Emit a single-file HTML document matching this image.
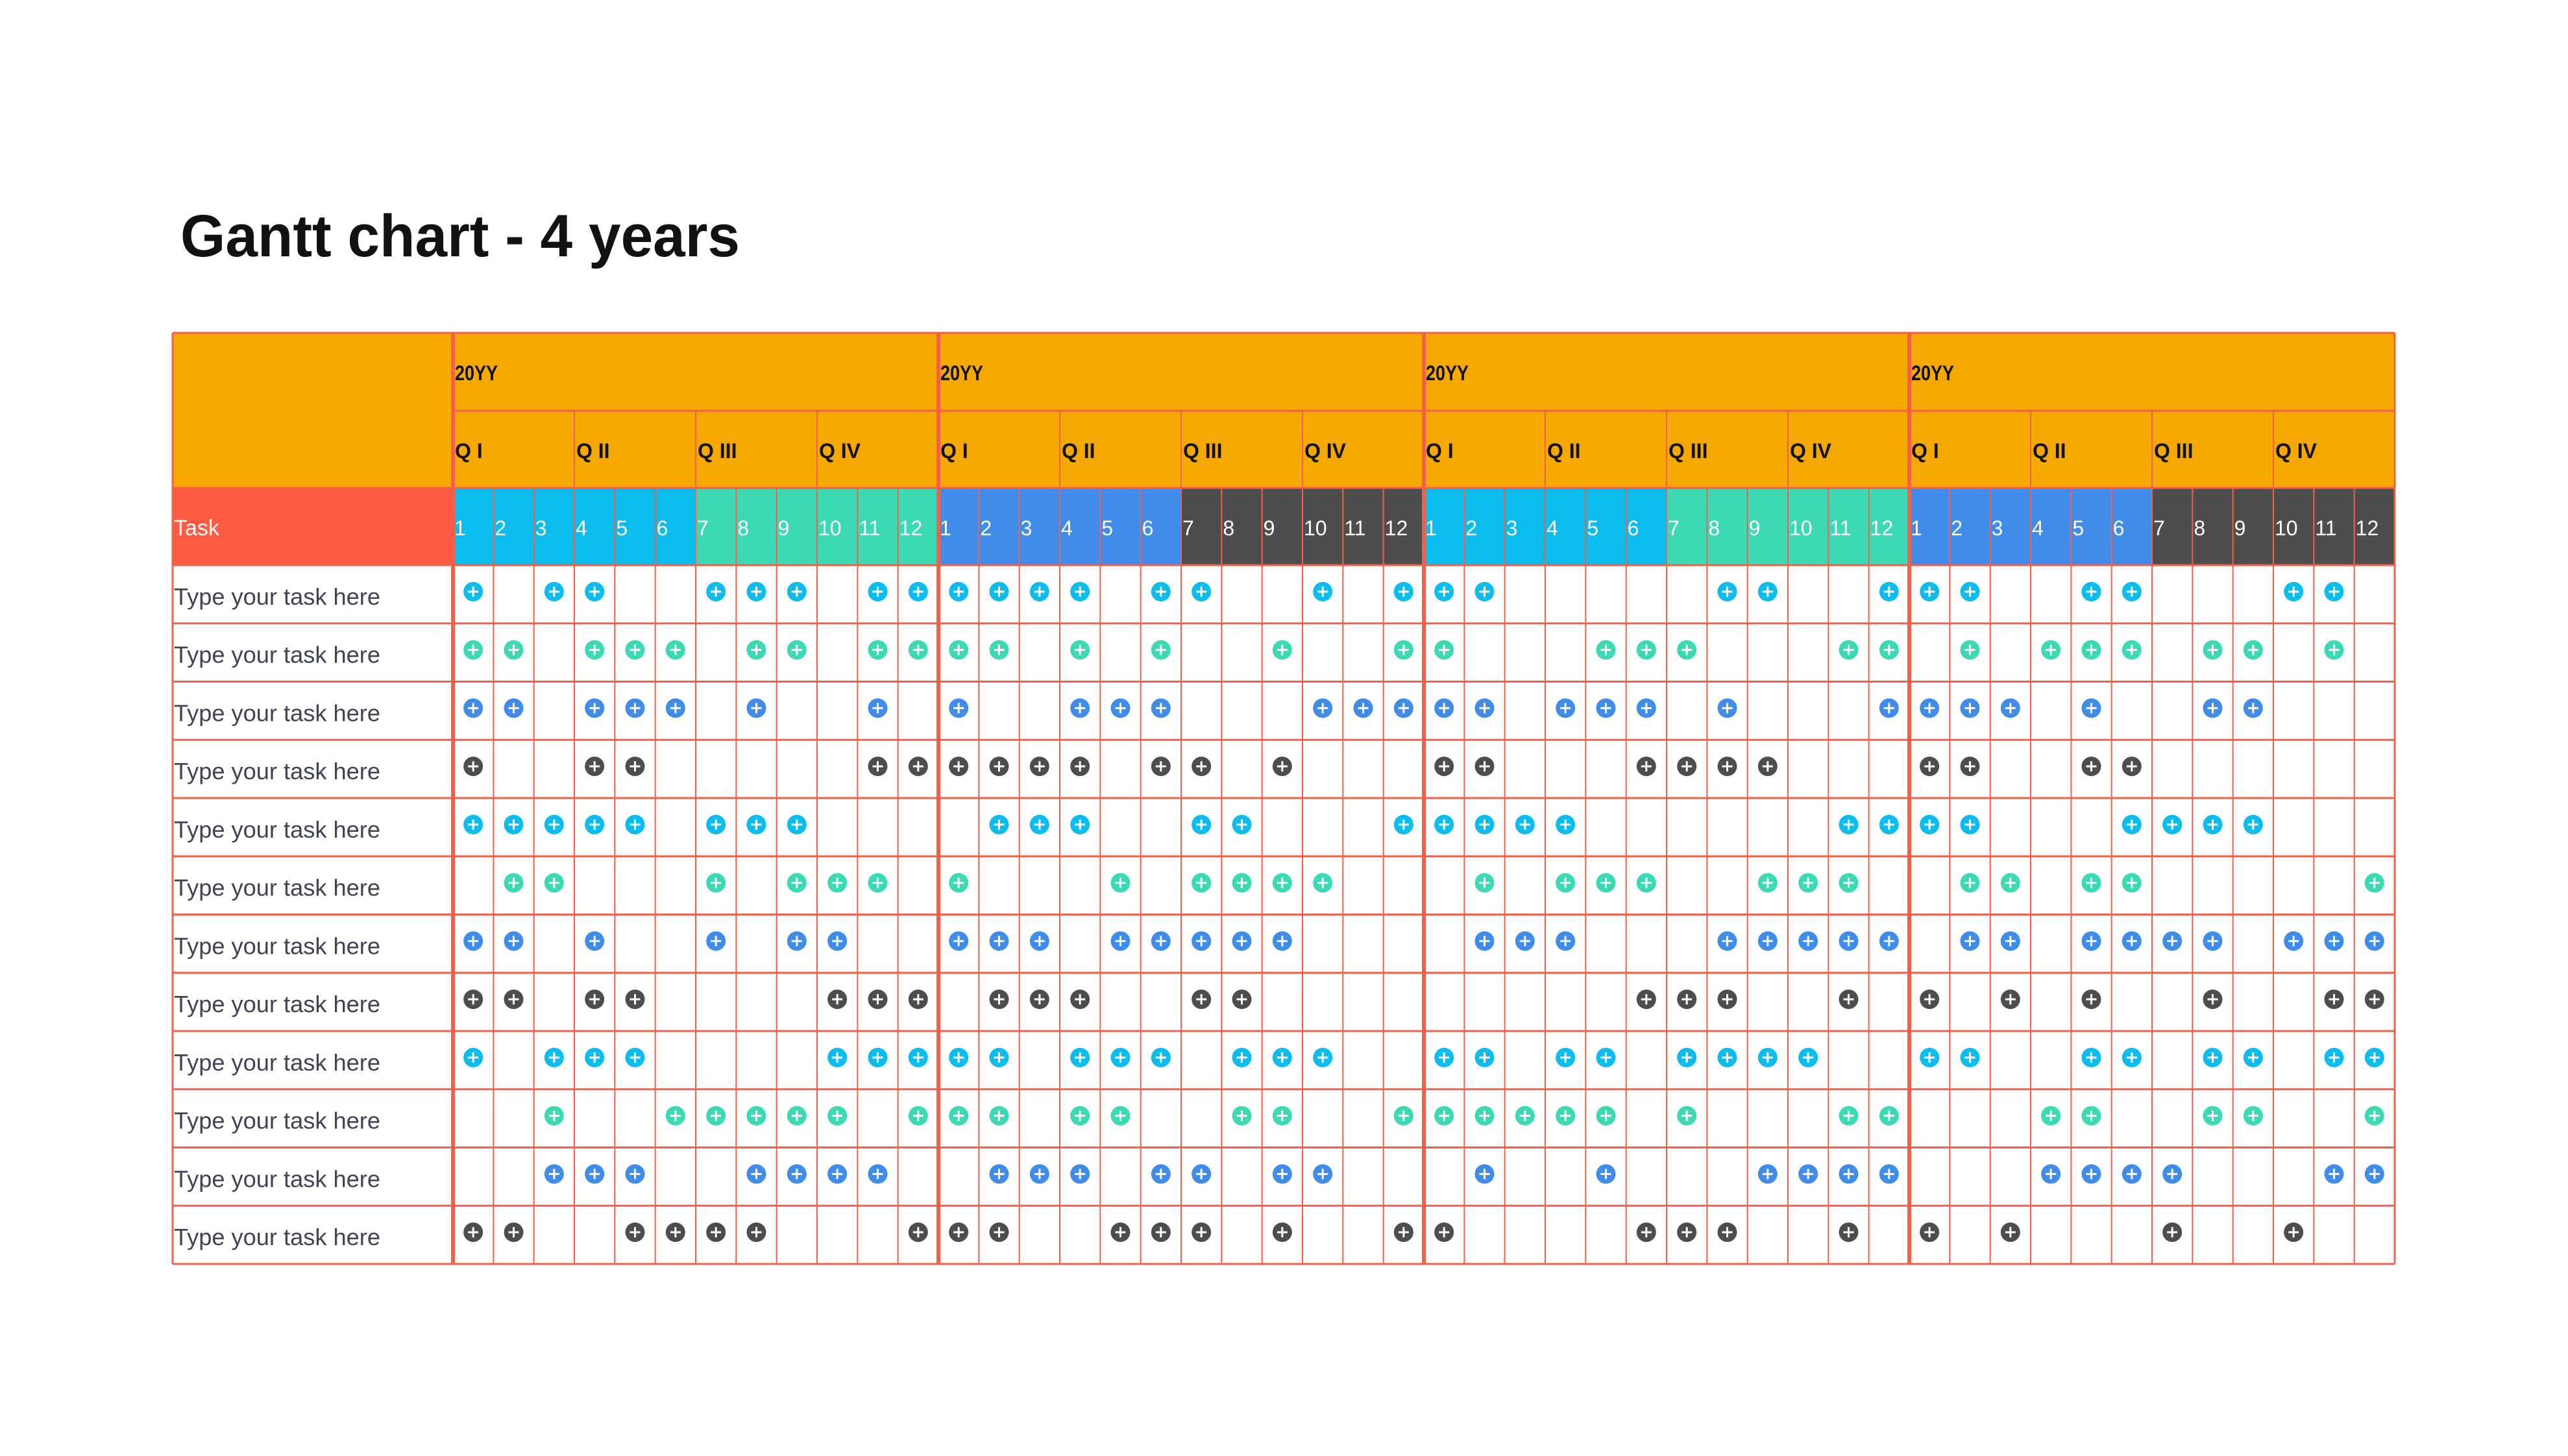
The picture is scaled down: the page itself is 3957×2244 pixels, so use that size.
<!DOCTYPE html>
<html><head><meta charset="utf-8"><style>
html,body{margin:0;padding:0;background:#fff;}
svg{display:block;}
</style></head><body>
<svg id="chart" xmlns="http://www.w3.org/2000/svg" width="3957" height="2244" viewBox="0 0 3957 2244">
<rect x="0" y="0" width="3957" height="2244" fill="#fff"/>
<text x="278" y="395" font-family="Liberation Sans, sans-serif" font-weight="bold" font-size="92" fill="#111" textLength="862" lengthAdjust="spacingAndGlyphs">Gantt chart - 4 years</text>
<g id="grid"></g>
</svg>
<script>
const yearLabels = ['20YY','20YY','20YY','20YY'];
const quarterLabels = ['Q I','Q II','Q III','Q IV'];
const monthLabels = ['1','2','3','4','5','6','7','8','9','10','11','12'];
const taskLabels = ['Type your task here','Type your task here','Type your task here','Type your task here','Type your task here','Type your task here','Type your task here','Type your task here','Type your task here','Type your task here','Type your task here','Type your task here'];
const task1 = [[1,3,4,7,8,9,11,12],[1,2,3,4,6,7,10,12],[1,2,8,9,12],[1,2,5,6,10,11]];
const task2 = [[1,2,4,5,6,8,9,11,12],[1,2,4,6,9,12],[1,5,6,7,11,12],[2,4,5,6,8,9,11]];
const task3 = [[1,2,4,5,6,8,11],[1,4,5,6,10,11,12],[1,2,4,5,6,8,12],[1,2,3,5,8,9]];
const task4 = [[1,4,5,11,12],[1,2,3,4,6,7,9],[1,2,6,7,8,9],[1,2,5,6]];
const task5 = [[1,2,3,4,5,7,8,9],[2,3,4,7,8,12],[1,2,3,4,11,12],[1,2,6,7,8,9]];
const task6 = [[2,3,7,9,10,11],[1,5,7,8,9,10],[2,4,5,6,9,10,11],[2,3,5,6,12]];
const task7 = [[1,2,4,7,9,10],[1,2,3,5,6,7,8,9],[2,3,4,8,9,10,11,12],[2,3,5,6,7,8,10,11,12]];
const task8 = [[1,2,4,5,10,11,12],[2,3,4,7,8],[6,7,8,11],[1,3,5,8,11,12]];
const task9 = [[1,3,4,5,10,11,12],[1,2,4,5,6,8,9,10],[1,2,4,5,7,8,9,10],[1,2,5,6,8,9,11,12]];
const task10 = [[3,6,7,8,9,10,12],[1,2,4,5,8,9,12],[1,2,3,4,5,7,11,12],[4,5,8,9,12]];
const task11 = [[3,4,5,8,9,10,11],[2,3,4,6,7,9,10],[2,5,9,10,11,12],[4,5,6,7,11,12]];
const task12 = [[1,2,5,6,7,8,12],[1,2,5,6,7,9,12],[1,6,7,8,11],[1,3,7,10]];
const allTasks = [task1,task2,task3,task4,task5,task6,task7,task8,task9,task10,task11,task12];

const NS='http://www.w3.org/2000/svg';
const g=document.getElementById('grid');
const L=266, TX=698, R=3690, T=513, H1=633, H2=752, H3=871, B=1948;
const colW=(R-TX)/48, rowH=(B-H3)/12;
const LINE='#F2604A', ORANGE='#F5A800', RED='#FF5A42';
const monthFill=[['#0BBDEF','#3BD9B4'],['#3F8CEB','#4D4D4D'],['#0BBDEF','#3BD9B4'],['#3F8CEB','#4D4D4D']];
const dotFill=['#0BBDEF','#3BD9B4','#3F8CEB','#4D4D4D'];
const xCol=c=>TX+c*colW;
const yRow=r=>H3+r*rowH;
function el(tag,attrs,parent){const e=document.createElementNS(NS,tag);for(const k in attrs)e.setAttribute(k,attrs[k]);(parent||g).appendChild(e);return e;}
function txt(s,attrs){const e=el('text',Object.assign({'font-family':'Liberation Sans, sans-serif'},attrs));e.textContent=s;return e;}

// header backgrounds
let r=el('rect',{x:L,y:T,width:R-L,height:H2-T,fill:ORANGE});


r=el('rect',{x:L,y:H2,width:TX-L,height:H3-H2,fill:RED});


let t=txt('Task',{x:L+2,y:H2+73,'font-size':34,fill:'#fff'});



for(let y=0;y<4;y++){
  t=txt(yearLabels[y],{x:xCol(y*12)+3,y:T+73,'font-size':32,'font-weight':'bold',fill:'#111',textLength:66,lengthAdjust:'spacingAndGlyphs'});
  
  
  for(let q=0;q<4;q++){
    t=txt(quarterLabels[q],{x:xCol(y*12+q*3)+3,y:H1+73,'font-size':32,'font-weight':'bold',fill:'#111'});
    
    
  }
  for(let m=0;m<12;m++){
    r=el('rect',{x:xCol(y*12+m),y:H2,width:colW,height:H3-H2,fill:monthFill[y][m<6?0:1]});
    
    
    t=txt(monthLabels[m],{x:xCol(y*12+m)+2,y:H2+73,'font-size':32,fill:'#fff'});
    
    
  }
}
// task labels
for(let i=0;i<12;i++){
  t=txt(taskLabels[i],{x:L+2,y:yRow(i)+rowH/2+16,'font-size':36,fill:'#3E4456',textLength:318,lengthAdjust:'spacingAndGlyphs'});
  
  
}
// grid lines
for(let i=0;i<=12;i++){el('line',{x1:L,x2:R,y1:yRow(i),y2:yRow(i),stroke:LINE,'stroke-width':3});}
el('line',{x1:TX,x2:R,y1:H1,y2:H1,stroke:LINE,'stroke-width':3});
el('line',{x1:L,x2:R,y1:T,y2:T,stroke:LINE,'stroke-width':3});
el('line',{x1:L,x2:R,y1:H2,y2:H2,stroke:LINE,'stroke-width':3});
for(let c=0;c<=48;c++){
  let top = c%12===0?T:(c%3===0?H1:H2);
  let w = (c%12===0)?6:2;
  if(c===48) w=3;
  el('line',{x1:xCol(c),x2:xCol(c),y1:top,y2:B,stroke:LINE,'stroke-width':w});
}
el('line',{x1:L,x2:L,y1:T,y2:B,stroke:LINE,'stroke-width':3});
el('line',{x1:TX,x2:TX,y1:T,y2:B,stroke:LINE,'stroke-width':6});
// dots
allTasks.forEach((task,i)=>{
  task.forEach((months,y)=>{
    months.forEach(m=>{
      const cx=xCol(y*12+m-1)+colW/2, cy=yRow(i)+rowH/2-4;
      const grp=el('g',{});
      
      
      el('circle',{cx:cx,cy:cy,r:15,fill:dotFill[i%4]},grp);
      el('line',{x1:cx-8,x2:cx+8,y1:cy,y2:cy,stroke:'#fff','stroke-width':3},grp);
      el('line',{x1:cx,x2:cx,y1:cy-8,y2:cy+8,stroke:'#fff','stroke-width':3},grp);
    });
  });
});
</script>
</body></html>
